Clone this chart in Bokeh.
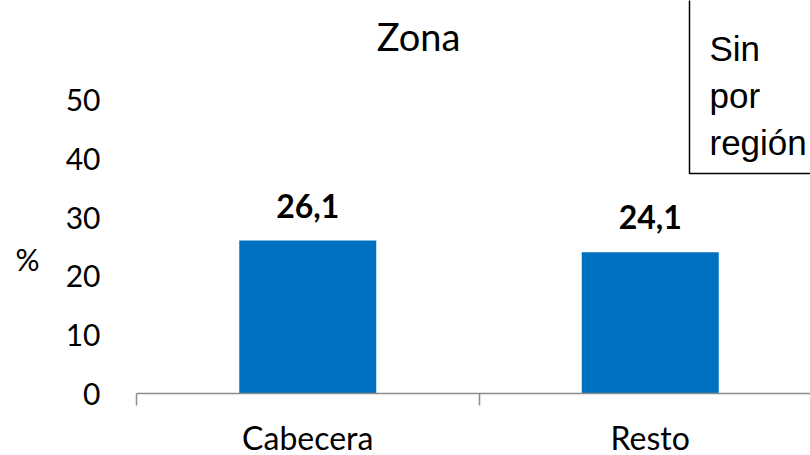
from bokeh.plotting import figure
from bokeh.models import Range1d, FixedTicker, Label, ColumnDataSource
from bokeh.core.properties import value
from bokeh.embed import file_html
from bokeh.resources import INLINE

# data
categories = ["Cabecera", "Resto"]
values = [26.1, 24.1]
y_ticks = [0, 10, 20, 30, 40, 50]
title_text = "Zona"
y_label = "%"
note_text = "Sin\npor\nregión"

# layout (pixels)
W, H = 810, 455
X0, Y0 = 136, 393          # pixel position of the axes origin
PX_CAT = 342.5             # pixels per category
PX_UNIT = 5.862            # pixels per percentage point

FONT = "Lato"
BAR = "#0070C0"
AX = "#8c8c8c"

xpos = [i + 0.5 for i in range(len(categories))]
labels = [f"{v:.1f}".replace(".", ",") for v in values]
src = ColumnDataSource(dict(x=xpos, top=values, lab=labels))

p = figure(width=W, height=H, output_backend="svg", toolbar_location=None,
           x_range=Range1d(-X0 / PX_CAT, (W - X0) / PX_CAT),
           y_range=Range1d(-(H - Y0) / PX_UNIT, Y0 / PX_UNIT),
           min_border=0, outline_line_color=None)
p.xgrid.visible = False
p.ygrid.visible = False

p.vbar(x="x", top="top", width=0.4, source=src, fill_color=BAR, line_color=None)
p.text(x="x", y="top", text="lab", source=src, text_font=value(FONT), text_font_style="bold",
       text_font_size="32px", text_align="center", text_baseline="alphabetic", y_offset=-35,
       text_color="#000000")

xa = p.xaxis[0]
xa.fixed_location = 0
xa.bounds = (0, len(categories))
xa.ticker = FixedTicker(ticks=xpos, minor_ticks=list(range(len(categories) + 1)))
xa.major_label_overrides = {x: c for x, c in zip(xpos, categories)}
xa.major_tick_line_color = None
xa.major_tick_out = 0
xa.major_tick_in = 0
xa.minor_tick_line_color = AX
xa.minor_tick_line_width = 1.5
xa.minor_tick_out = 12
xa.minor_tick_in = 0
xa.axis_line_color = AX
xa.axis_line_width = 1.5
xa.major_label_standoff = 12
xa.major_label_text_font = FONT
xa.major_label_text_font_size = "32px"
xa.major_label_text_color = "#000000"

ya = p.yaxis[0]
ya.fixed_location = 0
ya.bounds = (y_ticks[0], y_ticks[-1])
ya.ticker = FixedTicker(ticks=y_ticks)
ya.axis_line_color = None
ya.major_tick_line_color = None
ya.minor_tick_line_color = None
ya.major_tick_out = 0
ya.major_tick_in = 0
ya.major_label_standoff = 36
ya.major_label_text_font = FONT
ya.major_label_text_font_size = "30px"
ya.major_label_text_color = "#000000"

# title
p.add_layout(Label(x=418, y=H - 35, x_units="screen", y_units="screen", text=title_text,
                   text_font=FONT, text_font_size="38px", text_align="center",
                   text_baseline="alphabetic", text_color="#000000"))
# y-axis title
p.add_layout(Label(x=27, y=H - 258, x_units="screen", y_units="screen", text=y_label,
                   text_font=FONT, text_font_size="30px", text_align="center",
                   text_baseline="alphabetic", text_color="#000000"))
# note box (clipped by the top and right edges, as in the original)
p.add_layout(Label(x=689, y=H - 173, x_units="screen", y_units="screen", text=note_text,
                   text_font="Liberation Sans", text_font_size="35px", text_align="left",
                   text_baseline="bottom", text_line_height=1.21, text_color="#000000",
                   background_fill_color="white", border_line_color="#000000",
                   border_line_width=1.5,
                   padding=dict(left=20, right=40, top=60, bottom=11)))

open("out.html", "w").write(file_html(p, INLINE))
